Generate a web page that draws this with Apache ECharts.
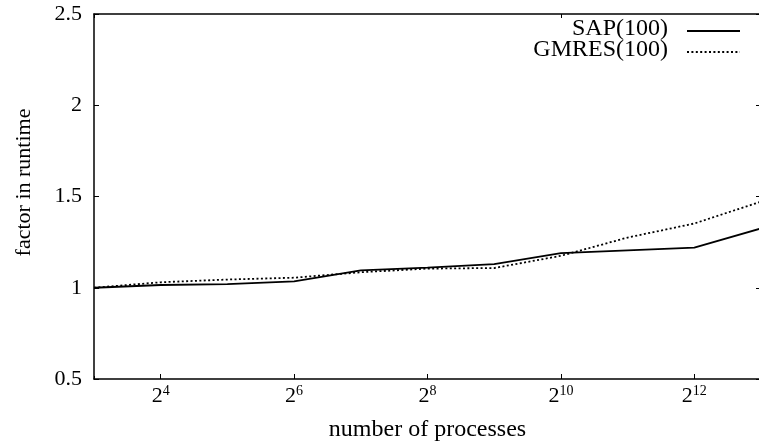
<!DOCTYPE html>
<html>
<head>
<meta charset="utf-8">
<script src="https://cdn.jsdelivr.net/npm/echarts@6/dist/echarts.min.js"></script>
<style>
  html, body { margin: 0; padding: 0; background: #fff; }
  #chart { width: 759px; height: 443px; }
</style>
</head>
<body>
<div id="chart"></div>
<script>
// Number of processes (powers of two) and runtime factors
const processes = [8, 16, 32, 64, 128, 256, 512, 1024, 2048, 4096, 8192];
const sapFactor = [1.0, 1.015, 1.02, 1.035, 1.095, 1.11, 1.13, 1.19, 1.205, 1.22, 1.325];
const gmresFactor = [1.0, 1.03, 1.045, 1.055, 1.085, 1.105, 1.108, 1.175, 1.275, 1.352, 1.472];
const labelledPowers = [16, 64, 256, 1024, 4096];
const yTicks = [0.5, 1, 1.5, 2, 2.5];
const seriesNames = ['SAP(100)', 'GMRES(100)'];

const FONT = 'Liberation Serif';
const ink = '#000';
const solidStyle = { color: ink, width: 1.8, type: 'solid' };
const dottedStyle = { color: ink, width: 1.8, type: [2, 2.4] };

function powLabel(v) {
  const e = Math.round(Math.log2(v));
  return '{b|2}{s|' + e + '}';
}

const chart = echarts.init(document.getElementById('chart'), null, { renderer: 'canvas' });

const baseX = { type: 'log', logBase: 2, min: 8, max: 8192, gridIndex: 0 };

// Key in the upper right: right-aligned names followed by line samples
const keyText = (name, y) => ({
  type: 'text', x: 668, y: y,
  style: { text: name, font: '24px "Liberation Serif"', fill: ink, align: 'right', verticalAlign: 'middle' }
});
const keyLine = (y, ls) => ({
  type: 'line', shape: { x1: 687, y1: y, x2: 740, y2: y },
  style: { stroke: ls.color, lineWidth: ls.width, lineDash: ls.type === 'solid' ? null : ls.type }
});

const option = {
  animation: false,
  backgroundColor: '#fff',
  grid: { left: 94, top: 14, width: 667, height: 365, containLabel: false, outerBoundsMode: 'none' },
  graphic: [
    keyText(seriesNames[0], 29),
    keyText(seriesNames[1], 50),
    keyLine(31, solidStyle),
    keyLine(52, dottedStyle)
  ],
  xAxis: [
    Object.assign({}, baseX, {
      position: 'bottom',
      name: 'number of processes', nameLocation: 'middle', nameGap: 39,
      nameTextStyle: { fontFamily: FONT, fontSize: 24, color: ink },
      axisLine: { show: true, lineStyle: { color: ink, width: 1.5 } },
      axisTick: { show: true, inside: true, length: 3, lineStyle: { color: ink, width: 1 } },
      axisLabel: {
        customValues: labelledPowers, margin: 5, formatter: powLabel,
        rich: {
          b: { fontFamily: FONT, fontSize: 22, color: ink, lineHeight: 22, padding: [3, 0, 0, 0] },
          s: { fontFamily: FONT, fontSize: 14, color: ink, verticalAlign: 'top', lineHeight: 14 }
        }
      },
      splitLine: { show: false }
    }),
    Object.assign({}, baseX, {
      position: 'bottom',
      axisLine: { show: false },
      axisTick: { show: true, inside: true, length: 5, customValues: labelledPowers, lineStyle: { color: ink, width: 1 } },
      axisLabel: { show: false },
      splitLine: { show: false }
    }),
    Object.assign({}, baseX, {
      position: 'top',
      axisLine: { show: true, lineStyle: { color: ink, width: 1.5 } },
      axisTick: { show: true, inside: true, length: 4, lineStyle: { color: ink, width: 1 } },
      axisLabel: { show: false },
      splitLine: { show: false }
    })
  ],
  yAxis: [
    {
      type: 'value', min: 0.5, max: 2.5, interval: 0.5, position: 'left',
      name: 'factor in runtime', nameLocation: 'middle', nameGap: 59, nameRotate: 90,
      nameTextStyle: { fontFamily: FONT, fontSize: 22, color: ink, padding: [0, 0, 0, 28] },
      axisLine: { show: true, lineStyle: { color: ink, width: 1.5 } },
      axisTick: { show: true, inside: true, length: 5, lineStyle: { color: ink, width: 1 } },
      axisLabel: {
        customValues: yTicks, margin: 12, fontFamily: FONT, fontSize: 22, color: ink,
        formatter: v => String(v)
      },
      splitLine: { show: false }
    },
    {
      type: 'value', min: 0.5, max: 2.5, interval: 0.5, position: 'right',
      axisLine: { show: true, lineStyle: { color: ink, width: 1.5 } },
      axisTick: { show: true, inside: true, length: 5, lineStyle: { color: ink, width: 1 } },
      axisLabel: { show: false },
      splitLine: { show: false }
    }
  ],
  series: [
    {
      name: seriesNames[0], type: 'line', symbol: 'none',
      data: processes.map((p, i) => [p, sapFactor[i]]),
      lineStyle: solidStyle, itemStyle: { color: ink }
    },
    {
      name: seriesNames[1], type: 'line', symbol: 'none',
      data: processes.map((p, i) => [p, gmresFactor[i]]),
      lineStyle: dottedStyle, itemStyle: { color: ink }
    }
  ]
};

chart.setOption(option);
</script>
</body>
</html>
